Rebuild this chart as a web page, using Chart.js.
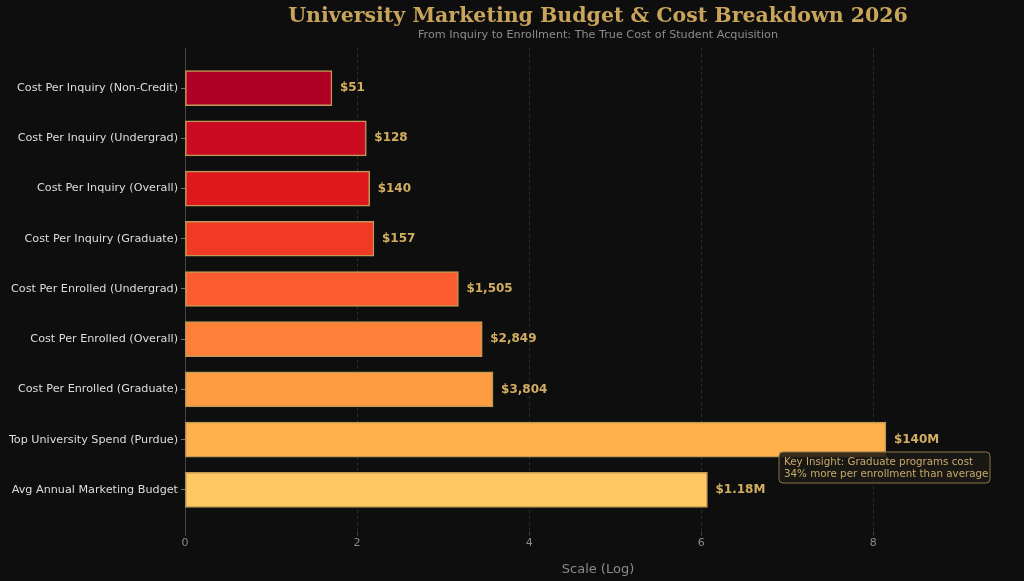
<!DOCTYPE html>
<html>
<head>
<meta charset="utf-8">
<script src="https://cdn.jsdelivr.net/npm/chart.js@4"></script>
<style>
  html, body { margin: 0; padding: 0; background: #0e0e0e; }
  #wrap { width: 1024px; height: 581px; }
</style>
</head>
<body>
<div id="wrap"><canvas id="budgetChart"></canvas></div>
<script>
// data
const categories = [
  'Cost Per Inquiry (Non-Credit)',
  'Cost Per Inquiry (Undergrad)',
  'Cost Per Inquiry (Overall)',
  'Cost Per Inquiry (Graduate)',
  'Cost Per Enrolled (Undergrad)',
  'Cost Per Enrolled (Overall)',
  'Cost Per Enrolled (Graduate)',
  'Top University Spend (Purdue)',
  'Avg Annual Marketing Budget'
];
const rawValues = [51, 128, 140, 157, 1505, 2849, 3804, 140000000, 1180000];
const valueLabels = ['$51', '$128', '$140', '$157', '$1,505', '$2,849', '$3,804', '$140M', '$1.18M'];
const barColors = ['#b10026', '#ca0b22', '#df181e', '#f03a24', '#fd5c31', '#fd7f38', '#fd9c43', '#feb14c', '#fec863'];
const xTicks = [0, 2, 4, 6, 8];
const insightLines = ['Key Insight: Graduate programs cost', '34% more per enrollment than average'];

const GOLD = '#d2ae60';

document.addEventListener('DOMContentLoaded', () => {
  const ctx = document.getElementById('budgetChart').getContext('2d');

  const points = rawValues.map((v, i) => ({ x: Math.log10(v), y: i }));

  const extras = {
    id: 'extras',
    afterDatasetsDraw(chart) {
      const c = chart.ctx;
      const area = chart.chartArea;
      const xs = chart.scales.x, ys = chart.scales.y;
      c.save();
      // value labels
      c.font = 'bold 12px "DejaVu Sans"';
      c.fillStyle = GOLD;
      c.textAlign = 'left';
      c.textBaseline = 'middle';
      points.forEach((p, i) => {
        c.fillText(valueLabels[i], xs.getPixelForValue(p.x) + 8, ys.getPixelForValue(p.y));
      });
      // title + subtitle centred on plot area
      const cx = (area.left + area.right) / 2;
      c.textAlign = 'center';
      c.font = 'bold 20.5px "DejaVu Serif"';
      c.fillStyle = '#c9a55b';
      c.fillText('University Marketing Budget & Cost Breakdown 2026', cx, 17);
      c.font = '11.2px "DejaVu Sans"';
      c.fillStyle = '#8c8c8c';
      c.fillText('From Inquiry to Enrollment: The True Cost of Student Acquisition', cx, 35);
      // insight box
      const bx = 779, by = 452, bw = 211, bh = 31;
      c.beginPath();
      c.roundRect(bx, by, bw, bh, 4);
      c.fillStyle = 'rgba(28,26,22,0.88)';
      c.fill();
      c.strokeStyle = '#8c7446';
      c.lineWidth = 1;
      c.stroke();
      c.font = '10.3px "DejaVu Sans"';
      c.fillStyle = '#c9aa6c';
      c.textAlign = 'left';
      insightLines.forEach((t, i) => c.fillText(t, bx + 5, by + 10 + i * 12));
      c.restore();
    }
  };

  new Chart(ctx, {
    type: 'bar',
    data: {
      datasets: [{
        data: points,
        backgroundColor: barColors,
        borderColor: '#c09a55',
        borderWidth: 1.5,
        borderSkipped: false,
        barThickness: 35
      }]
    },
    options: {
      indexAxis: 'y',
      responsive: true,
      maintainAspectRatio: false,
      animation: false,
      layout: { padding: { top: 48, right: 13, left: 0, bottom: 0 } },
      plugins: {
        legend: { display: false },
        tooltip: { enabled: false }
      },
      scales: {
        x: {
          type: 'linear',
          min: 0,
          max: 9.6,
          afterBuildTicks: s => { s.ticks = xTicks.map(v => ({ value: v })); },
          afterFit: s => { s.height = 49; },
          grid: {
            display: true,
            drawOnChartArea: false,
            tickColor: '#555',
            tickLength: 4,
            lineWidth: 0.8
          },
          border: { display: false },
          ticks: { color: '#8a8a8a', font: { family: 'DejaVu Sans', size: 11 }, padding: 1 },
          title: {
            display: true,
            text: 'Scale (Log)',
            color: '#8a8a8a',
            font: { family: 'DejaVu Sans', size: 13 },
            padding: { top: 10 }
          }
        },
        y: {
          type: 'linear',
          reverse: true,
          offset: false,
          min: -0.8,
          max: 8.84,
          afterBuildTicks: s => { s.ticks = categories.map((_, i) => ({ value: i })); },
          afterFit: s => { s.width = 185; },
          grid: { offset: false, drawOnChartArea: false, tickLength: 4, tickColor: '#777' },
          border: { color: '#444', width: 1 },
          ticks: {
            color: '#dddddd',
            font: { family: 'DejaVu Sans', size: 11.2 },
            padding: 3,
            callback: v => categories[v]
          }
        }
      }
    },
    plugins: [extras, {
      id: 'dashGrid',
      beforeDatasetsDraw(chart) {
        // dashed vertical gridlines like the reference
        const c = chart.ctx, xs = chart.scales.x, a = chart.chartArea;
        c.save();
        c.strokeStyle = '#363636';
        c.lineWidth = 0.8;
        c.setLineDash([3, 3]);
        xTicks.slice(1).forEach(v => {
          const px = Math.round(xs.getPixelForValue(v)) + 0.5;
          c.beginPath(); c.moveTo(px, a.top); c.lineTo(px, a.bottom + 4); c.stroke();
        });
        c.restore();
      }
    }]
  });
});
</script>
</body>
</html>
